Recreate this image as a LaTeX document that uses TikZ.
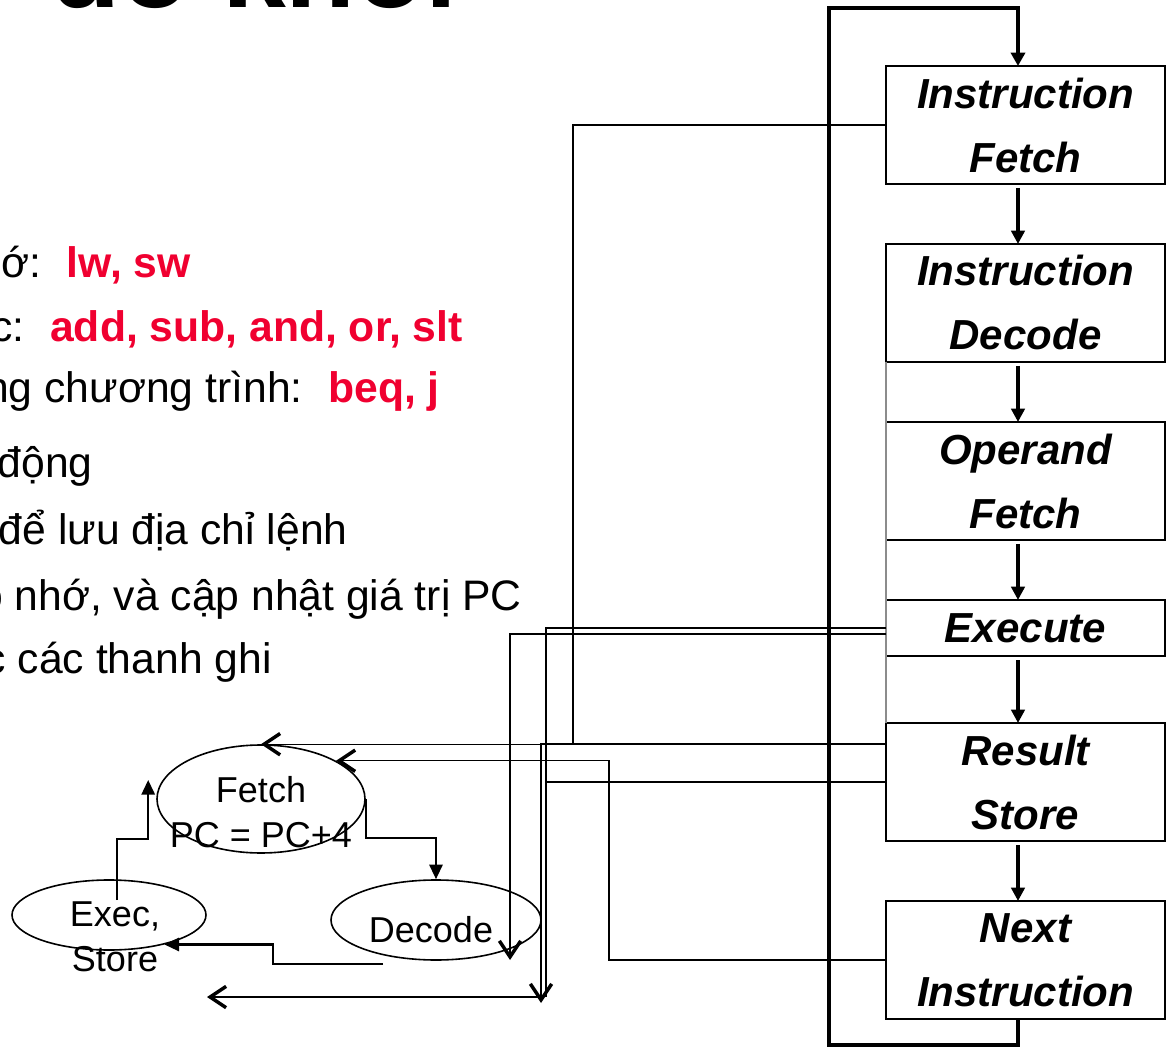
\documentclass[tikz,border=0pt]{standalone}
\usepackage{fontspec}
\setmainfont{Liberation Sans}
\usetikzlibrary{positioning,calc,arrows.meta,shapes.geometric}
\definecolor{hot}{HTML}{F00030}
\definecolor{rail}{HTML}{8C8C8C}
\newcommand{\kw}[1]{\textcolor{hot}{\bfseries #1}}

\begin{document}
\begin{tikzpicture}[x=0.75pt,y=-0.75pt,node distance=45pt,
stage/.style={draw,line width=1.5pt,outer sep=0pt,minimum width=209.25pt,minimum height=88.5pt,inner sep=0pt,align=center,font=\fontsize{31.5}{48}\selectfont\bfseries\itshape},
oval/.style={draw,ellipse,line width=1.2pt,inner sep=0pt},
ovaltxt/.style={align=center,inner sep=0pt,font=\fontsize{27}{33.75}\selectfont},
body/.style={anchor=base east,inner sep=0pt,font=\fontsize{32}{38}\selectfont},
stagearr/.style={line width=3pt,shorten <=3pt,-{Triangle[length=10pt,width=10pt]}},
backline/.style={line width=3.5pt,-{Triangle[length=10pt,width=10.5pt]}},
link/.style={line width=0.9pt},
barb/.style={-{Straight Barb[length=12pt,width=16pt,line width'=2.6pt,sharp]}},
flow/.style={line width=1.6pt,-{Triangle[length=11pt,width=10pt]}}]
\useasboundingbox (0,0) rectangle (1172,1048);
% cropped slide title and bullet text
\node[anchor=base west,inner sep=0pt,font=\fontsize{86}{86}\selectfont\bfseries] (title) at (-140,8) {Sơ đồ khối};
\node[body] (mem) at (191,278) {nhớ:\hspace{0.6em}\kw{lw, sw}};
\node[body] (alu) at (463,342) {c:\hspace{0.6em}\kw{add, sub, and, or, slt}};
\node[body] (ctrl) at (440,403) {ng chương trình:\hspace{0.6em}\kw{beq, j}};
\node[body] (steps) at (93,478) {động};
\node[body] (pcnote) at (348,545) {để lưu địa chỉ lệnh};
\node[body] (fetchnote) at (522,610) {bộ nhớ, và cập nhật giá trị PC};
\node[body] (decnote) at (272,673) {đọc các thanh ghi};
% stages
\coordinate (spine) at (1018,0);
\node[stage] (IF) at (1025.5,125) {Instruction\\Fetch};
\node[stage,below=of IF] (ID) {Instruction\\Decode};
\node[stage,below=of ID] (OF) {Operand\\Fetch};
\node[stage,below=of OF,minimum height=42pt] (EX) {Execute};
\node[stage,below=50.25pt of EX] (RS) {Result\\Store};
\node[stage,below=of RS] (NI) {Next\\Instruction};
\draw[stagearr] (IF.south -| spine)--(ID.north -| spine);\draw[stagearr] (ID.south -| spine)--(OF.north -| spine);
\draw[stagearr] (OF.south -| spine)--(EX.north -| spine);\draw[stagearr] (EX.south -| spine)--(RS.north -| spine);
\draw[stagearr] (RS.south -| spine)--(NI.north -| spine);
\draw[backline] (NI.south -| spine) -- ++(0,26) -| (829,8) -| (IF.north -| spine);
\draw[rail,line width=1pt] (ID.south west) -- (RS.north west);
% small cycle
\node[oval,minimum width=156pt,minimum height=81pt,label={[ovaltxt,yshift=-9.75pt]center:{Fetch\\PC = PC+4}}] (fetch) at (261,799) {};
\node[oval,minimum width=145.5pt,minimum height=52.5pt,label={[ovaltxt,xshift=4.5pt,yshift=-16.5pt]center:{Exec,\\Store}}] (exec) at (109,915) {};
\node[oval,minimum width=157.5pt,minimum height=60pt,label={[ovaltxt,xshift=-3.75pt,yshift=-7.5pt]center:Decode}] (decode) at (436,920) {};
\draw[flow] (fetch.east) -- ++(0,39) -| (decode.north);
\draw[flow] ($(decode.south)+(-53,3)$) -- ++(-110,0) |- (exec.-28);
\draw[flow] ($(exec.center)+(8,-15)$) -- ++(0,-61) -| ($(fetch.west)+(-8,-19)$);
% links from the stages
\coordinate (colA) at (573,0);\coordinate (colB) at (546,0);\coordinate (colC) at (609,0);
\coordinate (colD) at (541,0);\coordinate (colE) at (510,0);
\coordinate (drop) at (541,1003);
\coordinate (exit) at (207,997);
\draw[link,barb] (IF.west) -| (fetch.north -| colA) -- (fetch.north);
\draw[link,barb] ($(RS.west)+(0,-38)$) -| (drop);
\draw[link] (EX.west) -| (546,997);\draw[link] (RS.west) -- (RS.west -| colB);
\draw[link,barb] ($(EX.west)+(0,6)$) -| (510,960);
\draw[link,barb] (NI.west) -| (fetch.27 -| colC) -- (fetch.27);
\draw[link,barb] (exit -| colD) -- (exit);
\end{tikzpicture}
\end{document}
